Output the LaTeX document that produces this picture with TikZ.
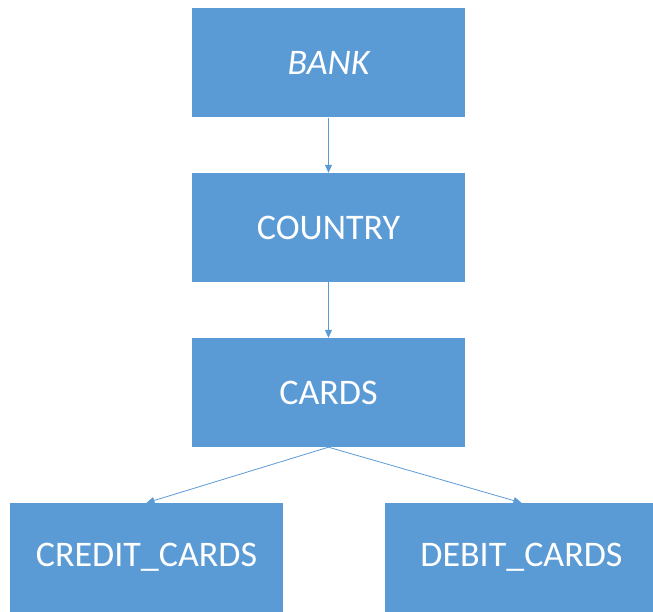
\documentclass[tikz,border=0pt]{standalone}
\usepackage{fontspec}
\setmainfont{Carlito}
\usepackage{tikz}
\usetikzlibrary{arrows.meta, positioning}
\definecolor{officeblue}{RGB}{91, 155, 213}

\begin{document}
\begin{tikzpicture}[
        x=1pt, y=-1pt,
        entity/.style={rectangle, fill=officeblue, draw=none, text=white, minimum width=273pt, minimum height=109pt, inner sep=0pt, font=\fontsize{36}{42}\selectfont},
        relation/.style={-{Triangle[length=8pt, width=7pt]}, line width=0.8pt, draw=officeblue}
    ]
        \useasboundingbox (0,0) rectangle (653,612);

        % Nodes
        \node[entity] (bank) at (328.5, 63) {\itshape BANK};
        \node[entity] (country) at (328.5, 227.5) {COUNTRY};
        \node[entity] (cards) at (328.5, 392.5) {CARDS};
        \node[entity] (credit_cards) at (146.5, 557.5) {CREDIT\_CARDS};
        \node[entity] (debit_cards) at (521.5, 557.5) {DEBIT\_CARDS};

        % Edges
        \draw[relation] (bank) -- (country);
        \draw[relation] (country) -- (cards);
        \draw[relation] (cards.south) -- (credit_cards.north);
        \draw[relation] (cards.south) -- (debit_cards.north);

    \end{tikzpicture}
\end{document}
